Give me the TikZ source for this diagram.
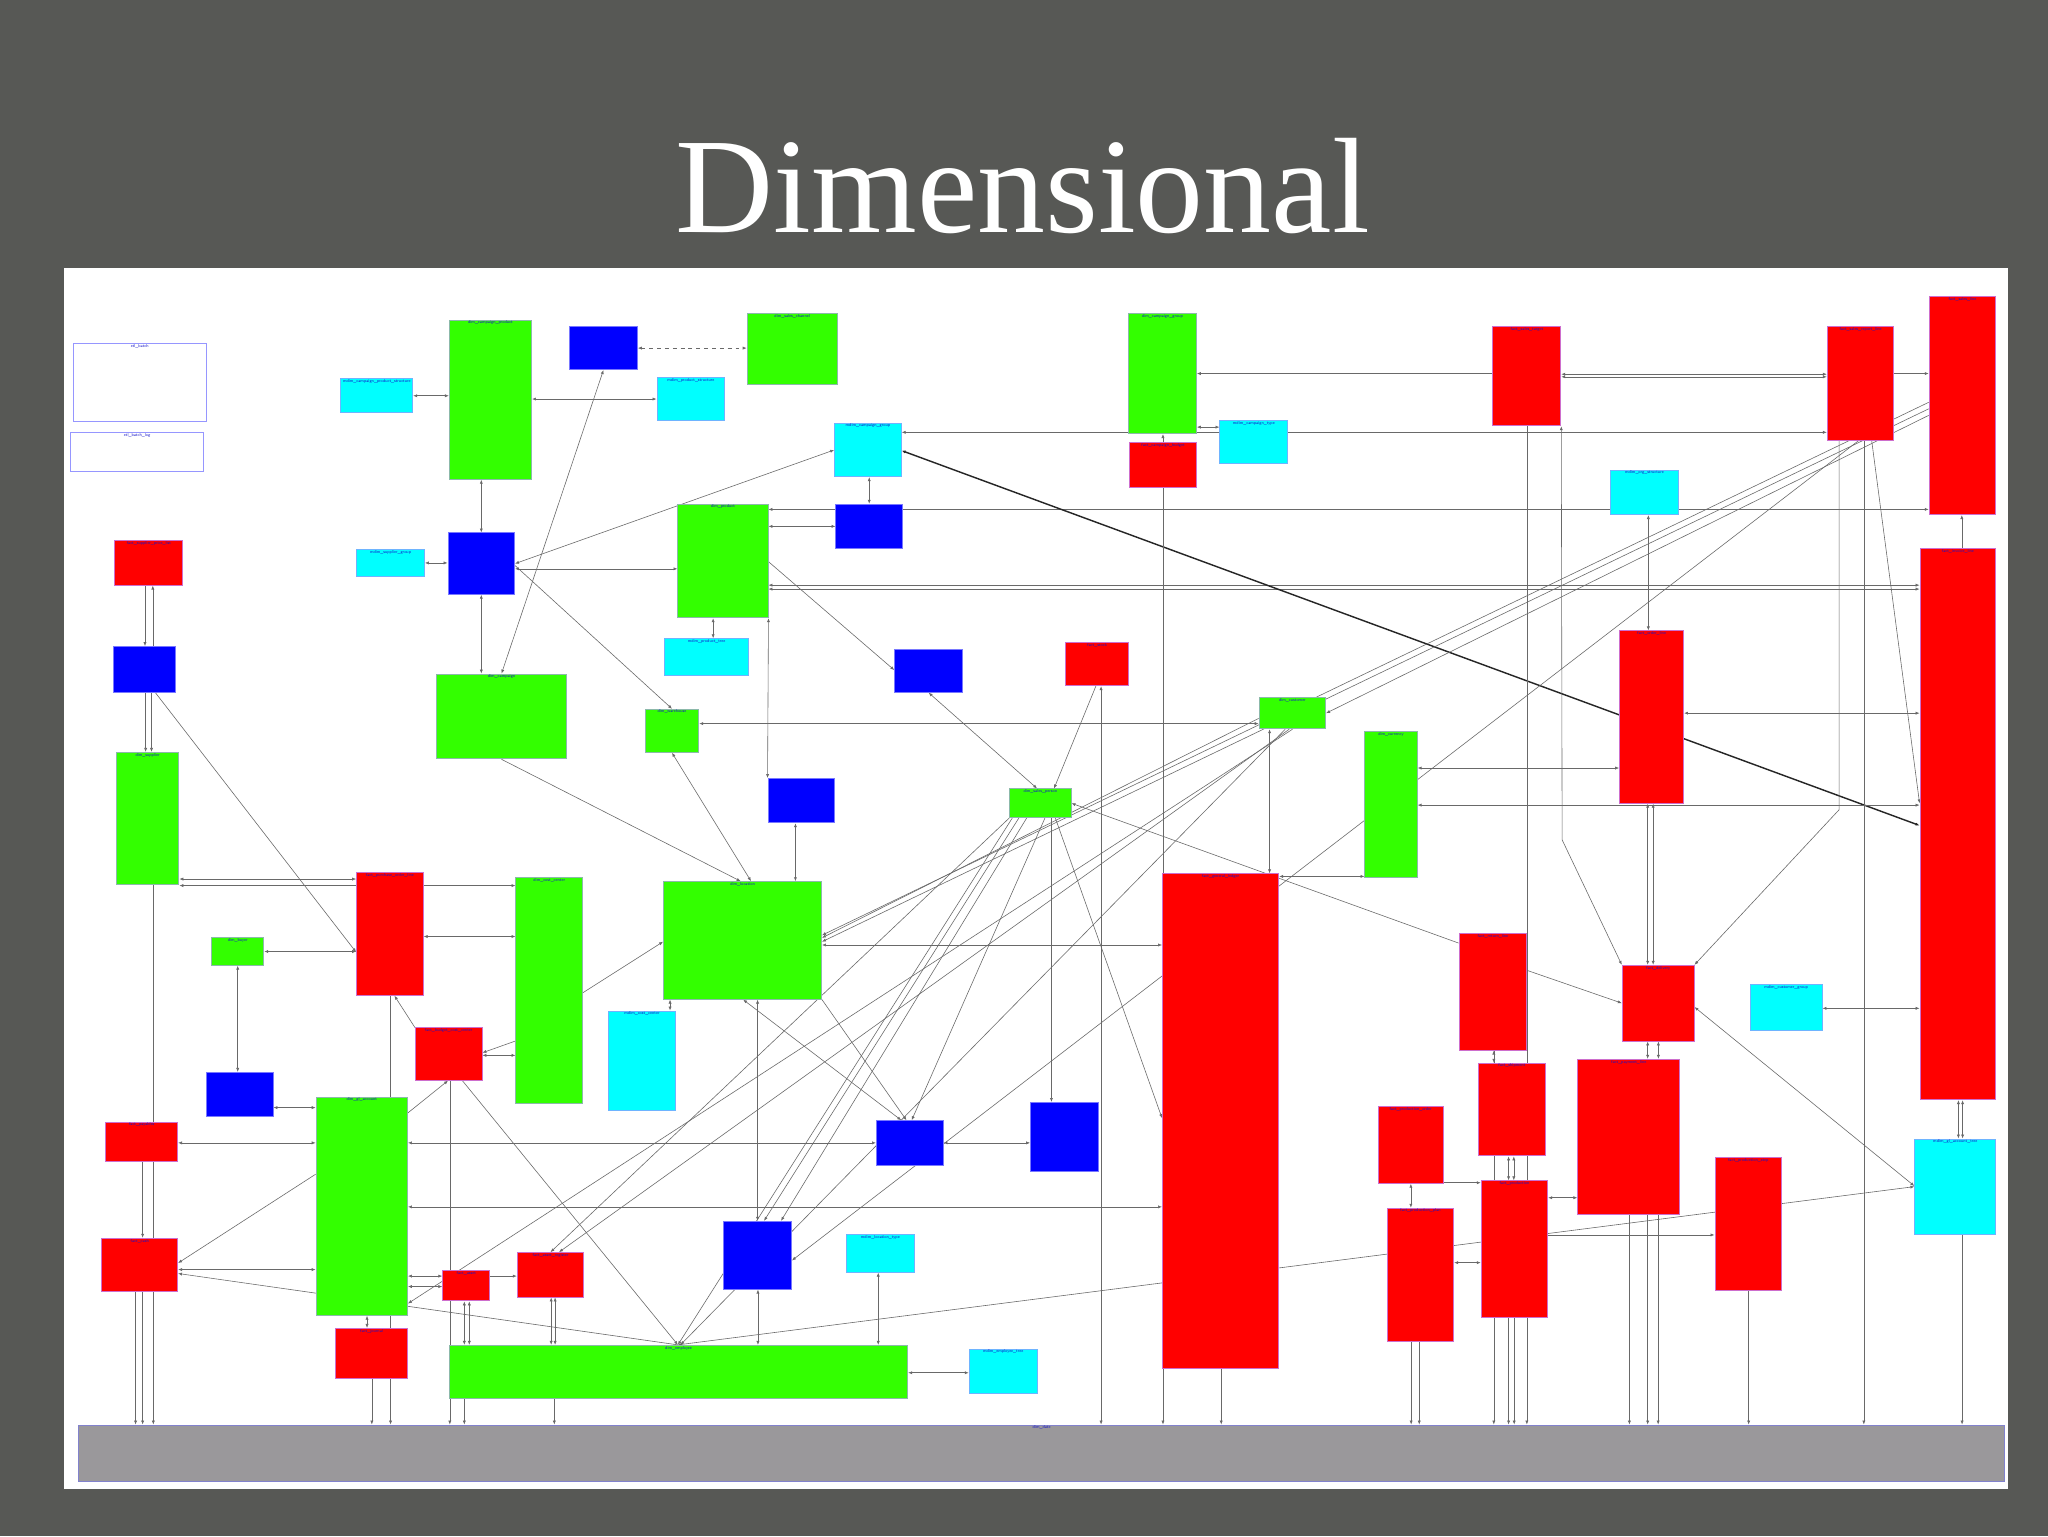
\documentclass[tikz,border=0pt]{standalone}
\usepackage{fontspec}
\newfontfamily\titlefont{Liberation Serif}
\usetikzlibrary{fit,arrows.meta}
\definecolor{bgc}{RGB}{87,88,85}
\definecolor{gfill}{RGB}{51,255,0}
\definecolor{gdraw}{RGB}{140,185,170}
\definecolor{rfill}{RGB}{255,0,0}
\definecolor{rdraw}{RGB}{205,110,205}
\definecolor{bfill}{RGB}{0,0,255}
\definecolor{bdraw}{RGB}{120,120,255}
\definecolor{cfill}{RGB}{0,255,255}
\definecolor{cdraw}{RGB}{110,180,255}
\definecolor{wdraw}{RGB}{150,150,255}
\definecolor{barfill}{RGB}{154,152,155}
\definecolor{bardraw}{RGB}{130,130,205}
\definecolor{lblc}{RGB}{20,20,200}
\definecolor{lnc}{RGB}{105,105,105}
\pgfdeclarelayer{back}
\pgfdeclarelayer{edges}
\pgfsetlayers{back,edges,main}
\newcommand\mkbox[7]{\node[#1, fit={(#3,#4) (#5,#6)}, label={[lbl]north:#7}] (#2) {};}
\begin{document}
\begin{tikzpicture}[x=1pt,y=-1pt,
  >={Latex[length=3pt,width=2.4pt]},
  base/.style={inner sep=0pt, line width=0.7pt},
  gbox/.style={base, draw=gdraw, fill=gfill},
  rbox/.style={base, draw=rdraw, fill=rfill},
  bbox/.style={base, draw=bdraw, fill=bfill},
  cbox/.style={base, draw=cdraw, fill=cfill},
  wbox/.style={base, draw=wdraw, fill=white},
  barbox/.style={base, draw=bardraw, fill=barfill},
  lbl/.style={anchor=north, inner sep=0.8pt, font=\sffamily\fontsize{3.2}{3.6}\selectfont, text=lblc},
  ln/.style={draw=lnc, line width=0.45pt},
  boldln/.style={draw=black!85, line width=1.1pt}]
\useasboundingbox (0,0) rectangle (1568,1176);
\begin{pgfonlayer}{back}
\fill[bgc] (0,0) rectangle (1568,1176);
\fill[white] (49,205) rectangle (1537,1140);
\end{pgfonlayer}
\node[anchor=base, text=white, inner sep=0pt, font=\titlefont\fontsize{104}{104}\selectfont] (title) at (783,178) {Dimensional};

% nodes
\mkbox{wbox}{W1}{56}{263}{158}{323}{etl\_batch}
\mkbox{wbox}{W2}{54}{331}{156}{361}{etl\_batch\_log}
\mkbox{cbox}{C1}{261}{290}{316}{316}{mdim\_campaign\_product\_structure}
\mkbox{gbox}{G1}{344}{245}{407}{367}{dim\_campaign\_product}
\mkbox{bbox}{B1}{436}{250}{488}{283}{}
\mkbox{gbox}{G2}{572}{240}{641}{294}{dim\_sales\_channel}
\mkbox{cbox}{C2}{503}{289}{555}{322}{mdim\_product\_structure}
\mkbox{cbox}{C3}{639}{324}{690}{365}{mdim\_campaign\_group}
\mkbox{gbox}{G3}{864}{240}{916}{332}{dim\_campaign\_group}
\mkbox{rbox}{R1}{865}{339}{916}{373}{fact\_campaign\_budget}
\mkbox{cbox}{C4}{934}{322}{986}{355}{mdim\_campaign\_type}
\mkbox{rbox}{R2}{1143}{250}{1195}{326}{fact\_sales\_target}
\mkbox{rbox}{R3}{1399}{250}{1450}{337}{fact\_sales\_report\_line}
\mkbox{rbox}{R4}{1477}{227}{1528}{394}{fact\_sales\_line}
\mkbox{cbox}{C5}{1233}{360}{1285}{394}{mdim\_org\_structure}
\mkbox{rbox}{R5}{1470}{420}{1528}{842}{fact\_invoice\_line}
\mkbox{rbox}{R6}{88}{414}{140}{448}{fact\_supplier\_price\_list}
\mkbox{cbox}{C6}{273}{421}{325}{441}{mdim\_supplier\_group}
\mkbox{bbox}{B2}{343}{408}{394}{455}{}
\mkbox{gbox}{G4}{519}{386}{588}{473}{dim\_product}
\mkbox{bbox}{B3}{640}{386}{691}{420}{}
\mkbox{bbox}{B4}{87}{495}{134}{530}{}
\mkbox{cbox}{C7}{509}{489}{573}{517}{mdim\_product\_tree}
\mkbox{bbox}{B5}{685}{497}{737}{530}{}
\mkbox{rbox}{R7}{816}{492}{864}{525}{fact\_stock}
\mkbox{gbox}{G5}{334}{516}{434}{581}{dim\_campaign}
\mkbox{gbox}{G6}{494}{543}{535}{576}{dim\_warehouse}
\mkbox{gbox}{G7}{964}{534}{1015}{558}{dim\_customer}
\mkbox{rbox}{R8}{1240}{483}{1289}{615}{fact\_order\_line}
\mkbox{gbox}{G8}{89}{576}{137}{677}{dim\_supplier}
\mkbox{bbox}{B6}{588}{596}{639}{630}{}
\mkbox{gbox}{G9}{773}{604}{820}{626}{dim\_sales\_person}
\mkbox{gbox}{G10}{1045}{560}{1085}{672}{dim\_currency}
\mkbox{rbox}{R9}{273}{668}{324}{762}{fact\_purchase\_order\_line}
\mkbox{gbox}{G11}{395}{672}{446}{845}{dim\_cost\_center}
\mkbox{gbox}{G12}{508}{675}{629}{765}{dim\_location}
\mkbox{rbox}{R10}{890}{669}{979}{1048}{fact\_general\_ledger}
\mkbox{gbox}{G13}{162}{718}{202}{739}{dim\_buyer}
\mkbox{rbox}{R11}{1117}{715}{1169}{804}{fact\_return\_line}
\mkbox{rbox}{R12}{1242}{739}{1297}{797}{fact\_delivery}
\mkbox{cbox}{C8}{1340}{754}{1395}{789}{mdim\_customer\_group}
\mkbox{cbox}{C9}{466}{774}{517}{850}{mdim\_cost\_center}
\mkbox{rbox}{R13}{318}{787}{369}{827}{fact\_budget\_cost\_center}
\mkbox{bbox}{B7}{158}{821}{209}{855}{}
\mkbox{rbox}{R14}{1132}{814}{1183}{885}{fact\_shipment}
\mkbox{rbox}{R15}{1208}{811}{1286}{930}{fact\_payment\_line}
\mkbox{gbox}{G14}{242}{840}{312}{1007}{dim\_gl\_account}
\mkbox{bbox}{B8}{789}{844}{841}{897}{}
\mkbox{bbox}{B9}{671}{858}{722}{892}{}
\mkbox{rbox}{R16}{81}{859}{136}{889}{fact\_payables}
\mkbox{rbox}{R17}{1055}{847}{1105}{906}{fact\_production\_order}
\mkbox{cbox}{C10}{1466}{872}{1528}{945}{mdim\_gl\_account\_tree}
\mkbox{rbox}{R18}{1313}{886}{1364}{988}{fact\_production\_step}
\mkbox{rbox}{R19}{1134}{904}{1185}{1009}{fact\_production}
\mkbox{rbox}{R20}{1062}{925}{1113}{1027}{fact\_production\_plan}
\mkbox{bbox}{B10}{554}{935}{606}{987}{}
\mkbox{cbox}{C11}{648}{945}{700}{974}{mdim\_location\_type}
\mkbox{rbox}{R21}{78}{948}{136}{989}{fact\_cash}
\mkbox{rbox}{R22}{396}{959}{447}{993}{fact\_asset\_register}
\mkbox{rbox}{R23}{339}{973}{375}{996}{fact\_asset}
\mkbox{rbox}{R24}{257}{1017}{312}{1055}{fact\_journal}
\mkbox{gbox}{G15}{344}{1030}{695}{1071}{dim\_employee}
\mkbox{cbox}{C12}{742}{1033}{794}{1067}{mdim\_employee\_tree}
\mkbox{barbox}{GB}{60}{1091}{1535}{1134}{dim\_date}
\coordinate (k1) at (1196,643);
\coordinate (k2) at (1408,620);

\begin{pgfonlayer}{edges}
% upper left
\draw[ln,<->] (C1.east|-0,303) -- (G1.west|-0,303);
\draw[ln,<->] (G1.east|-0,305.5) -- (C2.west|-0,305.5);
\draw[ln,dashed,<->] (B1.east|-0,266.5) -- (G2.west|-0,266.5);
\draw[ln,<->] (B1.south) -- (G5.north);
\draw[ln,<->] (B2.north) -- (B2.north|-G1.south);
\draw[ln,<->] (C6.east) -- (C6.east-|B2.west);
\draw[ln,<->] (B2.east) -- (C3.west);
\draw[ln,<->] (B2.east|-0,435.5) -- (G4.west|-0,435.5);
\draw[ln,->] (B2.east|-0,433) -- (G6.north);
\draw[ln,<->] (B2.south) -- (B2.south|-G5.north);
\draw[ln,<->] (B3.north) -- (B3.north|-C3.south);
\draw[ln,<->] (G4.east|-B3.west) -- (B3.west);
\draw[ln,<->] (G4.east|-0,390) -- (R4.west|-0,390);
\draw[ln,<->] (G4.east|-0,448) -- (R5.west|-0,448);
\draw[ln,<->] (G4.east|-0,451) -- (R5.west|-0,451);
\draw[boldln,<->] (C3.east|-0,345) -- (R5.west|-0,632);
\draw[ln,->] (G4.east|-0,430) -- (B5.west|-0,513);
\draw[ln,<->] (C7.north-|546,0) -- (G4.south-|546,0);
\draw[ln,<->] (G4.south east) -- (B6.north west);
% top right
\draw[ln,<-] (G3.east|-0,286) -- (R2.west|-0,286);
\draw[ln,<->] (R2.east|-0,286.5) -- (R3.west|-0,286.5);
\draw[ln,<->] (R2.east|-0,288.5) -- (R3.west|-0,288.5);
\draw[ln,->] (R3.east|-0,286) -- (R4.west|-0,286);
\draw[ln,<->] (C3.east|-0,331) -- (R3.west|-0,331);
\draw[ln,<->] (G3.east|-0,327) -- (C4.west|-0,327);
\draw[ln,->] (R1.north-|890.4,0) -- (G3.south-|890.4,0);
\draw[ln,->] (R1.south-|890.4,0) -- (GB.north-|890.4,0);
\draw[ln,<->] (C5.south-|1262,0) -- (R8.north-|1262,0);
\draw[ln,->] (R2.south-|1169,0) -- (GB.north-|1169,0);
\draw[ln,<->] (R2.south east) -- (k1) -- (R12.north west);
\draw[ln,->] (R3.south-|1408,0) -- (k2) -- (R12.north east);
\draw[ln,->] (R3.south-|1427,0) -- (GB.north-|1427,0);
\draw[ln,->] (R3.south-|1433,0) -- (R5.west|-0,615);
\draw[ln,<-] (R4.south-|1502,0) -- (R5.north-|1502,0);
\draw[ln,->] (R4.west|-0,308) -- (G12.east|-0,716);
\draw[ln,->] (R4.west|-0,313) -- (G12.east|-0,721);
\draw[ln,->] (R4.west|-0,318) -- (G7.east|-0,546);
\draw[ln,->] (R3.south-|1423,0) -- (B10.east|-0,965);
% left column
\draw[ln,->] (R6.south-|111,0) -- (B4.north-|111,0);
\draw[ln,->] (B4.north-|117,0) -- (R6.south-|117,0);
\draw[ln,->] (B4.south-|111.5,0) -- (G8.north-|111.5,0);
\draw[ln,->] (B4.south-|116,0) -- (G8.north-|116,0);
\draw[ln,->] (B4.south-|119,0) -- (R9.west|-0,729);
\draw[ln,<->] (G8.east|-0,673) -- (R9.west|-0,673);
\draw[ln,<->] (G8.east|-0,678) -- (G11.west|-0,678);
\draw[ln,<->] (G13.east) -- (G13.east-|R9.west);
\draw[ln,<->] (G13.south) -- (G13.south|-B7.north);
\draw[ln,<->] (R9.east|-0,717) -- (G11.west|-0,717);
\draw[ln,<-] (R9.south-|302,0) -- (R13.north west);
\draw[ln,->] (R9.south-|299,0) -- (GB.north-|299,0);
\draw[ln,->] (G8.south-|117.4,0) -- (GB.north-|117.4,0);
\draw[ln,->] (G11.west|-0,797) -- (R13.east|-0,806);
\draw[ln,<->] (R13.east|-0,808) -- (G11.west|-0,808);
\draw[ln,->] (G11.east|-0,760) -- (G12.west|-0,721);
\draw[ln,<->] (C9.north-|513,0) -- (G12.south-|513,0);
\draw[ln,->] (G5.south) -- (G12.north-|567,0);
\draw[ln,<->] (G6.south) -- (G12.north-|575,0);
\draw[ln,<->] (B6.south-|609,0) -- (G12.north-|609,0);
\draw[ln,<->] (G12.east|-0,723.5) -- (R10.west|-0,723.5);
\draw[ln,->] (G7.west|-0,550) -- (G12.east|-0,718);
\draw[ln,->] (G12.south east) -- (B9.north-|694,0);
\draw[ln,<->] (G12.south-|569,0) -- (B9.north-|690,0);
\draw[ln,<->] (G12.south-|580,0) -- (B10.north-|580,0);
\draw[ln,<->] (G6.east|-0,554) -- (G7.west|-0,554);
% G9 hub
\draw[ln,<->] (B5.south) -- (G9.north-|794,0);
\draw[ln,->] (R7.south-|839,0) -- (G9.north-|807,0);
\draw[ln,<->] (R7.south-|843,0) -- (GB.north-|843,0);
\draw[ln,->] (R11.west|-0,722) -- (G9.east|-0,615);
\draw[ln,->] (R11.east|-0,743) -- (R12.west|-0,768);
\draw[ln,->] (G9.south-|780,0) -- (B10.north-|585,0);
\draw[ln,->] (G9.south-|786,0) -- (B10.north-|598,0);
\draw[ln,->] (G9.south-|800,0) -- (B9.north-|698,0);
\draw[ln,->] (G9.south-|775,0) -- (G15.north-|519,0);
\draw[ln,->] (G9.south-|808,0) -- (R10.west|-0,856);
\draw[ln,->] (G9.south-|805,0) -- (B8.north-|805,0);
\draw[ln,->] (G9.south west) -- (R22.north);
\draw[ln,<->] (G7.south-|972,0) -- (R10.north-|972,0);
\draw[ln,->] (G7.south) -- (G14.east|-0,998);
\draw[ln,->] (G7.south-|987,0) -- (R22.north-|428,0);
\draw[ln,->] (G7.south-|984,0) -- (G15.north-|521,0);
% lower left
\draw[ln,->] (R13.south-|344.4,0) -- (GB.north-|344.4,0);
\draw[ln,->] (R13.south-|354,0) -- (G15.north-|519,0);
\draw[ln,->] (G14.east|-0,852) -- (R13.south-|343,0);
\draw[ln,<->] (B7.east|-0,848) -- (G14.west|-0,848);
\draw[ln,<->] (R16.east|-0,875) -- (G14.west|-0,875);
\draw[ln,->] (R16.south-|109.2,0) -- (R21.north-|109.2,0);
\draw[ln,->] (R21.south-|103.8,0) -- (GB.north-|103.8,0);
\draw[ln,->] (R21.south-|109.2,0) -- (GB.north-|109.2,0);
\draw[ln,<->] (R21.east|-0,972) -- (G14.west|-0,972);
\draw[ln,<-] (R21.east|-0,967) -- (G14.west|-0,899);
\draw[ln,<-] (R21.east|-0,975) -- (G15.north-|519,0);
\draw[ln,<->] (G14.east|-0,875) -- (B9.west|-0,875);
\draw[ln,<->] (B9.east|-0,875) -- (B8.west|-0,875);
\draw[ln,<->] (G14.east|-0,924) -- (R10.west|-0,924);
\draw[ln,<->] (G14.east|-0,977) -- (R23.west|-0,977);
\draw[ln,<->] (G14.east|-0,985) -- (R23.west|-0,985);
\draw[ln,->] (R23.east|-0,977) -- (R22.west|-0,977);
\draw[ln,<->] (G14.south-|281,0) -- (R24.north-|281,0);
\draw[ln,->] (R24.south-|284.7,0) -- (GB.north-|284.7,0);
\draw[ln,<->] (R23.south-|355.5,0) -- (G15.north-|355.5,0);
\draw[ln,<->] (R23.south-|359.3,0) -- (G15.north-|359.3,0);
\draw[ln,<->] (R22.south-|422,0) -- (G15.north-|422,0);
\draw[ln,<->] (R22.south-|425,0) -- (G15.north-|425,0);
\draw[ln,->] (G15.south-|355.5,0) -- (GB.north-|355.5,0);
\draw[ln,->] (G15.south-|424.4,0) -- (GB.north-|424.4,0);
\draw[ln,<->] (G15.east|-0,1051) -- (C12.west|-0,1051);
\draw[ln,<->] (C11.south-|672.4,0) -- (G15.north-|672.4,0);
\draw[ln,<->] (B10.south-|580.3,0) -- (G15.north-|580.3,0);
\draw[ln,<->] (G15.north-|519,0) -- (C10.west|-0,908.5);
\draw[ln,->] (R10.south-|935,0) -- (GB.north-|935,0);
% right middle / lower right
\draw[ln,<->] (R10.east|-0,671) -- (G10.west|-0,671);
\draw[ln,<->] (G10.east|-0,588) -- (R8.west|-0,588);
\draw[ln,<->] (G10.east|-0,616.4) -- (R5.west|-0,616.4);
\draw[ln,<->] (R8.east|-0,546) -- (R5.west|-0,546);
\draw[ln,<->] (R8.south-|1261.5,0) -- (R12.north-|1261.5,0);
\draw[ln,<->] (R8.south-|1265.7,0) -- (R12.north-|1265.7,0);
\draw[ln,<->] (R12.south-|1261.5,0) -- (R15.north-|1261.5,0);
\draw[ln,<->] (R12.south-|1269.7,0) -- (R15.north-|1269.7,0);
\draw[ln,<->] (R12.east|-0,771) -- (C10.west|-0,908);
\draw[ln,<->] (C8.east|-0,772) -- (R5.west|-0,772);
\draw[ln,<->] (R5.south-|1499.4,0) -- (C10.north-|1499.4,0);
\draw[ln,<->] (R5.south-|1502.6,0) -- (C10.north-|1502.6,0);
\draw[ln,->] (C10.south-|1502.2,0) -- (GB.north-|1502.2,0);
\draw[ln,<->] (R11.south-|1143.7,0) -- (R14.north-|1143.7,0);
\draw[ln,->] (R11.south-|1143.7,0) -- (GB.north-|1143.7,0);
\draw[ln,<->] (R14.south-|1155,0) -- (R19.north-|1155,0);
\draw[ln,<->] (R14.south-|1159,0) -- (R19.north-|1159,0);
\draw[ln,->] (R19.south-|1155,0) -- (GB.north-|1155,0);
\draw[ln,->] (R19.south-|1159.3,0) -- (GB.north-|1159.3,0);
\draw[ln,->] (R17.east|-0,905.5) -- (R19.west|-0,905.5);
\draw[ln,<->] (R17.south-|1080.2,0) -- (R20.north-|1080.2,0);
\draw[ln,->] (R20.south-|1080.4,0) -- (GB.north-|1080.4,0);
\draw[ln,->] (R20.south-|1086.6,0) -- (GB.north-|1086.6,0);
\draw[ln,<->] (R19.east|-0,917) -- (R15.west|-0,917);
\draw[ln,->] (R19.east|-0,945.5) -- (R18.west|-0,945.5);
\draw[ln,<->] (R20.east|-0,966.7) -- (R19.west|-0,966.7);
\draw[ln,->] (R15.south-|1247.5,0) -- (GB.north-|1247.5,0);
\draw[ln,->] (R15.south-|1261.5,0) -- (GB.north-|1261.5,0);
\draw[ln,->] (R15.south-|1269.5,0) -- (GB.north-|1269.5,0);
\draw[ln,->] (R18.south-|1338.8,0) -- (GB.north-|1338.8,0);
\end{pgfonlayer}
\end{tikzpicture}
\end{document}
